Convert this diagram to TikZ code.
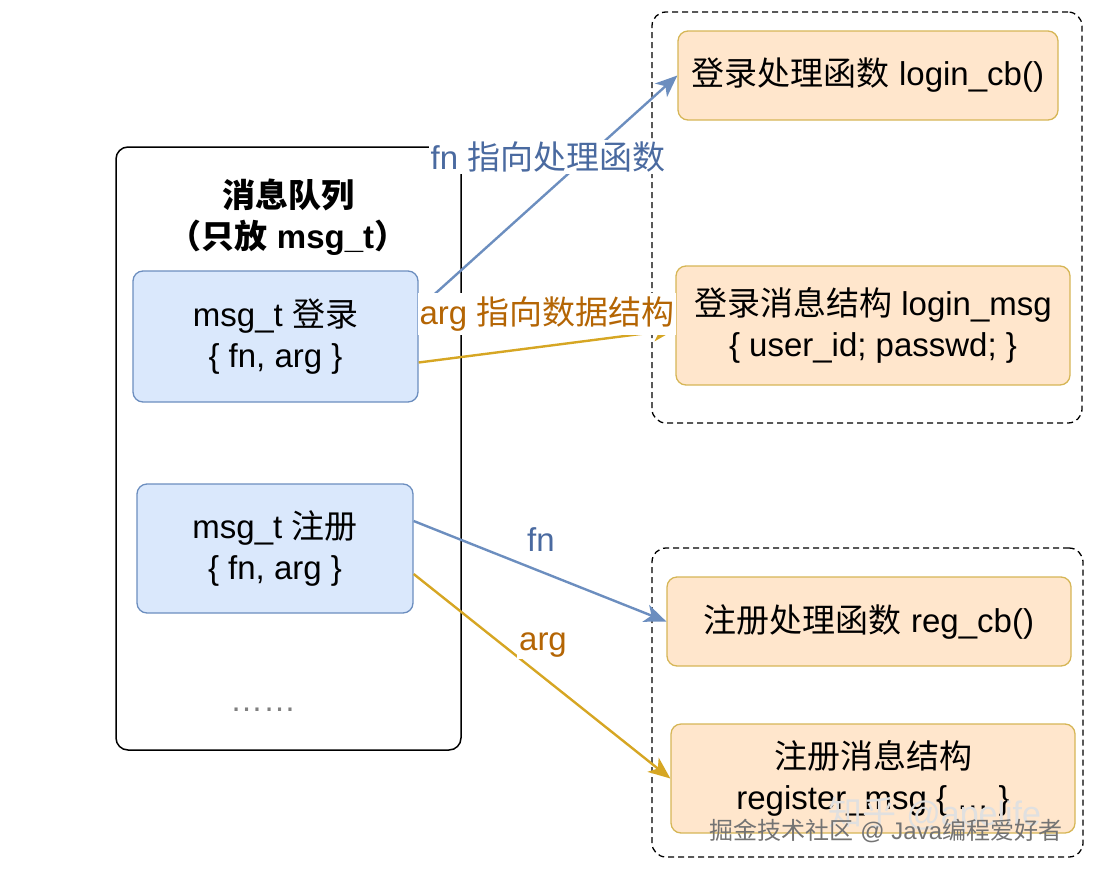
\documentclass[tikz,border=0pt]{standalone}
\usepackage{fontspec}
\setmainfont{Liberation Sans}
\newfontfamily\cjk{Noto Sans CJK SC}
\usetikzlibrary{arrows.meta}

\definecolor{bluefill}{HTML}{DAE8FC}
\definecolor{blueline}{HTML}{6C8EBF}
\definecolor{orangefill}{HTML}{FFE6CC}
\definecolor{goldline}{HTML}{D6B656}
\definecolor{goldarrow}{HTML}{D6A623}
\definecolor{fntext}{HTML}{4A6AA0}
\definecolor{argtext}{HTML}{B46504}

\begin{document}
\begin{tikzpicture}[x=1pt,y=-1pt,
    every node/.style={font=\fontsize{33}{41}\selectfont, align=center, inner sep=0pt},
    queue/.style={draw, line width=1.5pt, rounded corners=12pt},
    msgbox/.style={draw=blueline, fill=bluefill, line width=1.3pt, rounded corners=10pt},
    cbbox/.style={draw=goldline, fill=orangefill, line width=1.3pt, rounded corners=10pt},
    group/.style={draw, dash pattern=on 6pt off 4pt, line width=1.3pt, rounded corners=14pt},
    ptr/.style={line width=2.4pt, -{Stealth[length=22pt,width=18pt,inset=6pt]}},
    ptrlabel/.style={fill=white, inner sep=2pt}]

  \useasboundingbox (0,0) rectangle (1094,870);

  % message queue
  \node[queue, minimum width=345pt, minimum height=603pt] (queue) at (288.5,448.5) {};
  \node (title) at (288,217) {{\cjk\bfseries 消息队列}\\{\cjk\bfseries （只放} \textbf{msg\_t}{\cjk\bfseries ）}};
  \node[msgbox, minimum width=285pt, minimum height=131pt] (msgL) at (275.5,336.5)
    {msg\_t {\cjk 登录}\\\{ fn, arg \}};
  \node[msgbox, minimum width=276pt, minimum height=129pt] (msgR) at (275,548.5)
    {msg\_t {\cjk 注册}\\\{ fn, arg \}};
  \node[text=gray] (more) at (263,710) {……};

  % login side
  \node[group, minimum width=430pt, minimum height=411pt] (grpL) at (867,217.5) {};
  \node[cbbox, minimum width=380pt, minimum height=89pt] (loginCb) at (868,75.5)
    {{\cjk 登录处理函数} login\_cb()};
  \node[cbbox, minimum width=394pt, minimum height=119pt] (loginMsg) at (873,325.5)
    {{\cjk 登录消息结构} login\_msg\\\{ user\_id; passwd; \}};

  % register side
  \node[group, minimum width=431pt, minimum height=309pt] (grpR) at (867.5,702.5) {};
  \node[cbbox, minimum width=404pt, minimum height=89pt] (regCb) at (869,621.5)
    {{\cjk 注册处理函数} reg\_cb()};
  \node[cbbox, minimum width=404pt, minimum height=109pt] (regMsg) at (873,778.5)
    {{\cjk 注册消息结构}\\register\_msg \{ … \}};

  % pointers
  \draw[ptr, blueline] ([yshift=28pt]msgL.east) -- (loginCb.west);
  \draw[ptr, goldarrow] ([yshift=-26pt]msgL.east) -- ([yshift=-4pt]loginMsg.west);
  \draw[ptr, blueline] ([yshift=27.5pt]msgR.east) -- (regCb.west);
  \draw[ptr, goldarrow] ([yshift=-25.5pt]msgR.east) -- (regMsg.west);

  \node[ptrlabel, text=fntext] (fnL) at (548,157) {fn {\cjk 指向处理函数}};
  \node[ptrlabel, text=argtext, inner ysep=4pt, minimum width=258pt] (argL) at (547,314) {arg {\cjk 指向数据结构}};
  \node[text=fntext] (fnR) at (541,540) {fn};
  \node[ptrlabel, text=argtext] (argR) at (543,645) {arg};

  % watermarks
  \node[text=black!12, font=\fontsize{34}{40}\selectfont] (zhihu) at (935,815) {{\cjk 知乎} @apelife};
  \node[text=black!55, font=\fontsize{24}{28}\selectfont] (juejin) at (886,831) {{\cjk 掘金技术社区} @ Java{\cjk 编程爱好者}};

\end{tikzpicture}
\end{document}
